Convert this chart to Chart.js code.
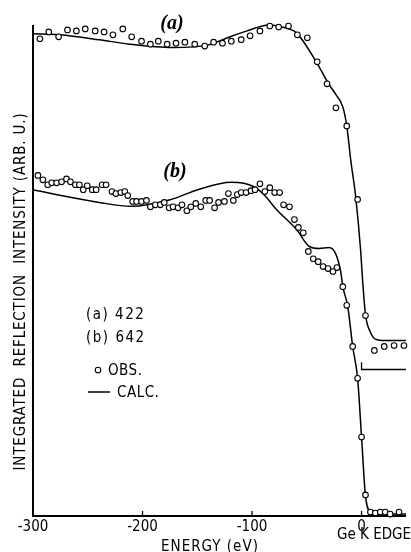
<!DOCTYPE html>
<html>
<head>
<meta charset="utf-8">
<script src="https://cdn.jsdelivr.net/npm/chart.js@4.4.1/dist/chart.umd.min.js"></script>
<style>
  html,body{margin:0;padding:0;background:#fff;}
  #wrap{width:411px;height:552px;position:relative;}
</style>
</head>
<body>
<div id="wrap"><canvas id="c" width="411" height="552"></canvas></div>
<script>
// ---- data (energy in eV, intensity in arbitrary units) ----
const xTickValues = [-300, -200, -100, 0];
const innerTickValues = [-200, -100, 0];

const calcA_E = [-300,-275.7,-239.6,-212.6,-172.0,-140.5,-122.5,-104.5,-84.7,-73.0,-59.5,-41.4,-30.6,-23.4,-17.1,-13.5,-9.9,-5.4,-0.9,0.9,3.6,8.1,12.6,21.6,40.5];
const calcA_I = [98.4,98.2,97.2,96.3,95.6,96.1,97.6,99.0,100.2,99.8,98.6,92.7,88.4,86.0,83.5,79.6,72.7,65.2,54.4,48.3,41.1,37.5,36.1,35.8,35.8];

const obsA_E = [-293.7,-285.6,-276.6,-268.5,-260.4,-252.3,-243.2,-235.1,-227.0,-218.0,-209.9,-200.9,-192.8,-185.6,-177.5,-169.4,-161.3,-152.3,-143.2,-135.1,-127.0,-118.9,-109.9,-101.8,-92.8,-83.8,-75.7,-66.7,-58.6,-49.5,-40.5,-31.5,-23.4,-13.5,-3.6,3.6,11.7,20.7,29.7,38.7];
const obsA_I = [97.4,98.8,97.8,99.2,99.0,99.4,99.0,98.8,98.2,99.4,97.8,96.9,96.3,96.9,96.3,96.5,96.7,96.3,95.9,96.7,96.5,96.9,97.2,98.0,99.0,100.0,99.8,100.0,98.2,97.6,92.7,88.2,83.3,79.6,64.6,40.9,33.8,34.6,34.8,34.8];

const calcB_E = [-300,-269.4,-239.6,-210.8,-173.9,-149.5,-119.0,-98.2,-89.2,-77.5,-59.5,-47.7,-38.7,-29.7,-23.4,-18.9,-17.1,-12.6,-8.1,-3.6,0,3.6,8.1,12.6,40.5];
const calcB_I = [66.6,65.2,64.0,63.2,64.6,66.6,68.1,67.2,65.6,62.5,58.5,55.0,54.6,54.8,53.4,49.7,46.8,42.8,34.6,28.1,16.1,4.1,0.8,0.4,0.4];

const obsB_E = [-295.5,-291.0,-286.5,-282.9,-278.4,-273.9,-269.4,-265.8,-261.3,-257.7,
  -254.1,-250.5,-245.9,-242.3,-236.9,-233.3,-227.9,-224.3,-219.8,-216.2,
  -213.5,-209.0,-205.4,-200.9,-196.4,-192.8,-188.3,-183.8,-180.2,-175.7,
  -172.1,-167.6,-164.0,-159.5,-155.9,-151.4,-146.8,-142.3,-138.7,-134.2,
  -130.6,-125.2,-121.6,-117.1,-113.5,-109.9,-105.4,-100.9,-97.3,-92.8,
  -88.3,-83.8,-79.3,-74.8,-71.2,-65.8,-61.3,-57.7,-53.2,-48.6,
  -44.1,-39.6,-35.1,-30.6,-26.1,-22.5,-17.1,-13.5,-8.1,-3.6,
  0.0,3.6,8.1,12.6,17.1,21.6,26.1,34.2];
const obsB_I = [69.5,68.6,67.6,68.0,68.0,68.2,68.8,68.2,67.6,67.6,
  66.6,67.4,66.6,66.6,67.6,67.6,66.2,65.8,66.0,66.2,
  65.4,64.2,64.2,64.2,64.4,63.1,63.5,63.5,64.0,62.9,
  63.1,62.9,63.5,62.3,63.1,63.8,63.1,64.4,64.4,62.9,
  64.0,64.2,65.8,64.4,65.6,66.0,66.0,66.4,66.6,67.8,
  66.2,67.0,66.0,66.0,63.5,63.1,60.5,58.9,57.8,54.0,
  52.5,51.9,50.9,50.5,49.9,50.7,46.8,43.0,34.6,28.1,
  16.1,4.3,0.8,0.6,0.8,0.8,0.4,0.8];

// zero-level marker of curve (a)
const baseA_E = [0, 0, 40.5];
const baseA_I = [31.4, 29.9, 29.9];

const xMin = -300, xMax = 40.5, yMin = 0, yMax = 100;

// ---- helpers ----
const pts = (xs, ys) => xs.map((x, i) => ({x: x, y: ys[i]}));
const NARROW = "'Liberation Sans Narrow', 'DejaVu Sans Condensed', 'DejaVu Sans', sans-serif";

const lineStyle = {borderColor:'#000', borderWidth:1.5, pointRadius:0, fill:false, showLine:true, clip:false, order:2, cubicInterpolationMode:'monotone'};
const pointStyle = {borderColor:'#000', backgroundColor:'#fff', borderWidth:1.1, pointRadius:2.8, showLine:false, clip:false, order:1};

const annot = {
  id: 'annot',
  afterDraw(chart) {
    const ctx = chart.ctx, xs = chart.scales.x, ca = chart.chartArea;
    ctx.save();
    // inner tick marks
    ctx.strokeStyle = '#000'; ctx.lineWidth = 1.3;
    innerTickValues.forEach(v => {
      const px = xs.getPixelForValue(v);
      ctx.beginPath(); ctx.moveTo(px, ca.bottom); ctx.lineTo(px, ca.bottom - 5); ctx.stroke();
    });
    ctx.fillStyle = '#000';
    // curve labels
    ctx.font = "italic bold 20px 'Liberation Serif', serif";
    ctx.textAlign = 'center'; ctx.textBaseline = 'middle';
    ctx.fillText('(a)', 172, 24);
    ctx.fillText('(b)', 175, 172);
    // legend block
    ctx.font = "15px " + NARROW;
    ctx.textAlign = 'left';
    ctx.letterSpacing = '1.5px';
    ctx.fillText('(a) 422', 86, 315);
    ctx.fillText('(b) 642', 86, 338);
    ctx.letterSpacing = '0.5px';
    ctx.fillText('OBS.', 108, 371);
    ctx.fillText('CALC.', 117, 393);
    ctx.beginPath(); ctx.arc(98, 370, 2.8, 0, Math.PI*2);
    ctx.fillStyle = '#fff'; ctx.fill(); ctx.lineWidth = 1.1; ctx.stroke();
    ctx.fillStyle = '#000';
    ctx.beginPath(); ctx.lineWidth = 1.5; ctx.moveTo(88, 392); ctx.lineTo(110, 392); ctx.stroke();
    // x axis texts
    ctx.font = "15px " + NARROW;
    ctx.letterSpacing = '1px';
    ctx.textAlign = 'center';
    ctx.fillText('ENERGY (eV)', 210, 547);
    ctx.letterSpacing = '0px';
    ctx.textAlign = 'left';
    ctx.fillText('Ge K EDGE', 337, 535);
    // y axis title (rotated)
    const t = 'INTEGRATED  REFLECTION  INTENSITY (ARB. U.)';
    ctx.translate(21, 291.5);
    ctx.rotate(-Math.PI/2);
    ctx.font = "15px " + NARROW;
    ctx.letterSpacing = '0px';
    const w = ctx.measureText(t).width;
    ctx.letterSpacing = ((357 - w) / (t.length - 1)).toFixed(2) + 'px';
    ctx.textAlign = 'center';
    ctx.fillText(t, 0, 0);
    ctx.restore();
  }
};

new Chart(document.getElementById('c'), {
  type: 'scatter',
  data: {
    datasets: [
      Object.assign({label:'(a) CALC.', data: pts(calcA_E, calcA_I)}, lineStyle),
      Object.assign({label:'(a) OBS.', data: pts(obsA_E, obsA_I)}, pointStyle),
      Object.assign({label:'(b) CALC.', data: pts(calcB_E, calcB_I)}, lineStyle),
      Object.assign({label:'(b) OBS.', data: pts(obsB_E, obsB_I)}, pointStyle),
      Object.assign({label:'(a) zero', data: pts(baseA_E, baseA_I)}, lineStyle, {cubicInterpolationMode:'default', tension:0, borderWidth:1.3})
    ]
  },
  options: {
    responsive: false,
    animation: false,
    devicePixelRatio: 1,
    layout: {padding: {top: 26, left: 0, right: 0, bottom: 0}},
    plugins: {legend: {display:false}, tooltip: {enabled:false}},
    scales: {
      x: {
        type: 'linear', min: xMin, max: xMax,
        afterBuildTicks: s => { s.ticks = xTickValues.map(v => ({value: v})); },
        afterFit: s => { s.height = 36; },
        grid: {display:false, drawTicks:false},
        border: {display:true, color:'#000', width:2},
        ticks: {color:'#000', padding:2, maxRotation:0, autoSkip:false,
                font:{family: NARROW, size:15},
                callback: v => String(v)}
      },
      y: {
        type: 'linear', min: yMin, max: yMax,
        afterFit: s => { s.width = 33; },
        grid: {display:false, drawTicks:false},
        border: {display:true, color:'#000', width:2},
        ticks: {display:false}
      }
    }
  },
  plugins: [annot]
});
</script>
</body>
</html>
